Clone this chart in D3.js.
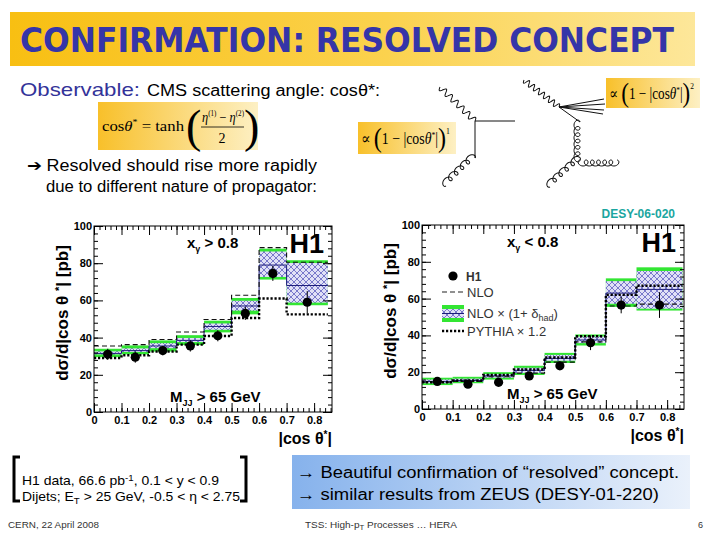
<!DOCTYPE html>
<html>
<head>
<meta charset="utf-8">
<script src="https://cdn.jsdelivr.net/npm/d3@7"></script>
<style>
  body { margin: 0; background: #fff; }
  svg { display: block; font-family: "Liberation Sans", Arial, sans-serif; }
</style>
</head>
<body>
<div class="slide"></div>
<script>

// bins in |cos theta*|
var binEdges = [0, 0.1, 0.2, 0.3, 0.4, 0.5, 0.6, 0.7, 0.85];
var xTicks = [0, 0.1, 0.2, 0.3, 0.4, 0.5, 0.6, 0.7, 0.8];
var yTicks = [0, 20, 40, 60, 80, 100];

// x_gamma > 0.8 (direct)
var dataL   = [31, 29.5, 33, 35.5, 41, 53, 74.5, 59];
var errL    = [3, 3, 2.5, 3, 3, 3.5, 4, 6];
var nloL    = [35.5, 36.2, 39, 43, 49.7, 62.8, 88.4, 80.5];
var hadL    = [31.5, 33, 35.5, 38.5, 46, 57, 79, 68];
var greenLoL = [29.5, 31, 32.5, 36, 42.8, 52.5, 71.2, 57.4];
var greenHiL = [34, 35.8, 38.5, 41.3, 49.1, 61.3, 87.8, 81.6];
var hatchLoL = [31, 32.3, 34.3, 37.6, 44.2, 54.5, 72.6, 58.8];
var hatchHiL = [32.6, 34.2, 37, 39.8, 47.6, 59.8, 86.3, 80.1];
var pythiaL = [29, 30.5, 32.5, 36.2, 40.9, 50.5, 61, 52.5];

// x_gamma < 0.8 (resolved)
var dataR   = [15, 13.5, 14.5, 18, 23.5, 36, 56.5, 56.5];
var errR    = [1.5, 1.5, 1.5, 2, 2.5, 4, 4.5, 7];
var nloR    = [14.5, 15, 17.5, 19.5, 25.5, 36.5, 56, 57];
var hadR    = [15, 15.5, 18, 21, 27.5, 37.5, 63, 65];
var greenLoR = [13, 14, 16, 18.5, 25, 34.5, 55.5, 53.5];
var greenHiR = [17, 17.5, 20, 23.5, 30.5, 40.5, 71, 77];
var hatchLoR = [14, 14.8, 17, 19.6, 26.2, 35.8, 57.2, 54.5];
var hatchHiR = [16, 16.5, 19, 22.4, 29.4, 39.4, 69.5, 75];
var pythiaR = [14.5, 15.5, 18.5, 21.5, 28, 39.5, 62, 67];

var W = 720, H = 540;
var svg = d3.select(".slide").append("svg")
  .attr("width", W).attr("height", H);

var defs = svg.append("defs");

var gTitle = defs.append("linearGradient").attr("id", "gold").attr("x1", 0).attr("x2", 1);
gTitle.append("stop").attr("offset", 0).attr("stop-color", "#f8bf12");
gTitle.append("stop").attr("offset", 0.55).attr("stop-color", "#fbd24e");
gTitle.append("stop").attr("offset", 1).attr("stop-color", "#fde79a");

var gBox = defs.append("linearGradient").attr("id", "goldbox").attr("x1", 0).attr("x2", 1);
gBox.append("stop").attr("offset", 0).attr("stop-color", "#f8c02a");
gBox.append("stop").attr("offset", 1).attr("stop-color", "#fdf0c4");

var gBlue = defs.append("linearGradient").attr("id", "bluebox").attr("x1", 0).attr("x2", 1);
gBlue.append("stop").attr("offset", 0).attr("stop-color", "#86b2ec");
gBlue.append("stop").attr("offset", 1).attr("stop-color", "#eaf1fb");

var hatch = defs.append("pattern").attr("id", "hatch")
  .attr("patternUnits", "userSpaceOnUse").attr("width", 6).attr("height", 6);
hatch.append("rect").attr("width", 6).attr("height", 6).attr("fill", "#e0e0f6");
hatch.append("path").attr("d", "M0,0L6,6M6,0L0,6M-3,3L3,-3M3,9L9,3M-3,3L3,9M3,-3L9,3")
  .attr("stroke", "#4a4ab8").attr("stroke-width", 0.7);

// ---------- title banner ----------
svg.append("rect").attr("x", 10).attr("y", 12).attr("width", 685).attr("height", 54)
  .attr("fill", "url(#gold)");
svg.append("text").attr("x", 20).attr("y", 52)
  .attr("font-family", "'DejaVu Sans', sans-serif").attr("font-weight", "bold")
  .attr("font-size", 34).attr("fill", "#3535a8")
  .attr("textLength", 654).attr("lengthAdjust", "spacingAndGlyphs")
  .text("CONFIRMATION: RESOLVED CONCEPT");

// ---------- top text ----------
svg.append("text").attr("x", 20).attr("y", 96).attr("font-size", 19).attr("fill", "#333399")
  .attr("textLength", 120).attr("lengthAdjust", "spacingAndGlyphs").text("Observable:");
svg.append("text").attr("x", 147).attr("y", 96).attr("font-size", 16).attr("fill", "#000")
  .attr("textLength", 233).attr("lengthAdjust", "spacingAndGlyphs")
  .text("CMS scattering angle: cosθ*:");

// formula box
svg.append("rect").attr("x", 98).attr("y", 102).attr("width", 160).attr("height", 48)
  .attr("fill", "url(#goldbox)");
var serif = "'Liberation Serif', 'DejaVu Serif', serif";
svg.append("text").attr("x", 102).attr("y", 131).attr("font-family", serif).attr("font-size", 15)
  .attr("textLength", 82).attr("lengthAdjust", "spacingAndGlyphs")
  .html("cos<tspan font-style='italic'>θ</tspan><tspan dy='-6' font-size='9'>*</tspan><tspan dy='6'> = tanh</tspan>");
svg.append("text").attr("x", 186).attr("y", 142).attr("font-family", serif).attr("font-size", 46)
  .attr("font-weight", "lighter").text("(");
svg.append("text").attr("x", 244).attr("y", 142).attr("font-family", serif).attr("font-size", 46)
  .attr("font-weight", "lighter").text(")");
svg.append("text").attr("x", 202).attr("y", 122).attr("font-family", serif).attr("font-size", 14)
  .attr("textLength", 42).attr("lengthAdjust", "spacingAndGlyphs")
  .html("<tspan font-style='italic'>η</tspan><tspan dy='-6' font-size='8'>(1)</tspan><tspan dy='6'> − </tspan><tspan font-style='italic'>η</tspan><tspan dy='-6' font-size='8'>(2)</tspan>");
svg.append("line").attr("x1", 201).attr("x2", 244).attr("y1", 127).attr("y2", 127)
  .attr("stroke", "#000").attr("stroke-width", 0.8);
svg.append("text").attr("x", 222).attr("y", 143).attr("text-anchor", "middle")
  .attr("font-family", serif).attr("font-size", 14).text("2");

svg.append("text").attr("x", 27).attr("y", 171).attr("font-size", 16)
  .attr("textLength", 290).attr("lengthAdjust", "spacingAndGlyphs")
  .text("➔ Resolved should rise more rapidly");
svg.append("text").attr("x", 46).attr("y", 192).attr("font-size", 16)
  .attr("textLength", 271).attr("lengthAdjust", "spacingAndGlyphs")
  .text("due to different nature of propagator:");

// proportionality boxes
function propBox(x, y, w, h, pow) {
  svg.append("rect").attr("x", x).attr("y", y).attr("width", w).attr("height", h)
    .attr("fill", "url(#goldbox)");
  var t = svg.append("text").attr("x", x + 3).attr("y", y + h / 2 + 6)
    .attr("font-family", serif).attr("font-size", 16)
    .attr("textLength", w - 9).attr("lengthAdjust", "spacingAndGlyphs");
  t.html("∝ <tspan font-size='28' dy='3'>(</tspan><tspan dy='-3'>1 − |cos</tspan><tspan font-style='italic'>θ</tspan><tspan font-size='9' dy='-6'>*</tspan><tspan dy='6'>|</tspan><tspan font-size='28' dy='3'>)</tspan><tspan font-size='9' dy='-13'>" + pow + "</tspan>");
}
propBox(358, 122, 98, 32, 1);
propBox(606, 78, 94, 30, 2);

// Feynman-style lines: drawn along x in a local frame, then rotated into place
function wavyLocal(L, n, amp) {
  var pts = [];
  for (var i = 0; i <= n * 20; i++) {
    var s = i / (n * 20);
    pts.push([L * s, amp * Math.sin(s * n * 2 * Math.PI)]);
  }
  return d3.line()(pts);
}
function curlyLocal(L, n, r) {
  var pts = [];
  for (var i = 0; i <= n * 20; i++) {
    var t = i / 20 * 2 * Math.PI, s = i / (n * 20);
    pts.push([L * s - r * 1.1 * Math.sin(t), r * (1 - Math.cos(t))]);
  }
  return d3.line()(pts);
}
var feyn = svg.append("g").attr("fill", "none").attr("stroke", "#111").attr("stroke-width", 1);
function prop(kind, x1, y1, x2, y2, n, a) {
  var dx = x2 - x1, dy = y2 - y1, L = Math.sqrt(dx * dx + dy * dy);
  var ang = Math.atan2(dy, dx) * 180 / Math.PI;
  feyn.append("path")
    .attr("d", kind === "w" ? wavyLocal(L, n, a) : curlyLocal(L, n, a))
    .attr("transform", "translate(" + x1 + "," + y1 + ") rotate(" + ang + ")");
}
prop("w", 440, 87, 475, 121, 6, 3);
feyn.append("path").attr("d", "M475,121L515,121M475,121L475,158");
prop("c", 475, 158, 446, 186, 5, 3);
prop("w", 524, 80, 559, 107, 7, 2.8);
feyn.append("path").attr("d", "M559,107L604,99M559,107L605,104M559,107L604,110M559,107L603,114M559,107L580,122");
prop("c", 580, 122, 580, 160, 6, 3);
prop("c", 580, 160, 617, 160, 6, 3);
prop("c", 580, 160, 550, 187, 5, 3);

// ---------- histogram panels ----------
function panel(cfg) {
  var x = d3.scaleLinear().domain([0, cfg.xMax]).range([cfg.x0, cfg.x1]);
  var y = d3.scaleLinear().domain([0, 100]).range([cfg.y0, cfg.y1]);
  var g = svg.append("g");
  var nb = binEdges.length - 1;
  var bins = d3.range(nb);

  // green total band
  g.selectAll(".green").data(bins).enter().append("rect")
    .attr("x", function(i) { return x(binEdges[i]); })
    .attr("width", function(i) { return x(binEdges[i + 1]) - x(binEdges[i]); })
    .attr("y", function(i) { return y(cfg.gHi[i]); })
    .attr("height", function(i) { return y(cfg.gLo[i]) - y(cfg.gHi[i]); })
    .attr("fill", "#33e633");
  // hatched scale band
  g.selectAll(".hatchb").data(bins).enter().append("rect")
    .attr("x", function(i) { return x(binEdges[i]); })
    .attr("width", function(i) { return x(binEdges[i + 1]) - x(binEdges[i]); })
    .attr("y", function(i) { return y(cfg.hHi[i]); })
    .attr("height", function(i) { return y(cfg.hLo[i]) - y(cfg.hHi[i]); })
    .attr("fill", "url(#hatch)");

  function stepPts(vals) {
    var p = [];
    vals.forEach(function(v, i) {
      p.push([x(binEdges[i]), y(v)]);
      p.push([x(binEdges[i + 1]), y(v)]);
    });
    return p;
  }
  var line = d3.line();
  g.append("path").attr("d", line(stepPts(cfg.had)))
    .attr("fill", "none").attr("stroke", "#1c1c7a").attr("stroke-width", 1);
  g.append("path").attr("d", line(stepPts(cfg.nlo)))
    .attr("fill", "none").attr("stroke", "#111").attr("stroke-width", 1.1)
    .attr("stroke-dasharray", "5,3");
  g.append("path").attr("d", line(stepPts(cfg.pythia)))
    .attr("fill", "none").attr("stroke", "#000").attr("stroke-width", 2.4)
    .attr("stroke-dasharray", "2.2,1.8");

  // data points
  var mid = function(i) { return x((binEdges[i] + binEdges[i + 1]) / 2); };
  g.selectAll(".err").data(bins).enter().append("line")
    .attr("x1", mid).attr("x2", mid)
    .attr("y1", function(i) { return y(cfg.data[i] + cfg.err[i]); })
    .attr("y2", function(i) { return y(cfg.data[i] - cfg.err[i]); })
    .attr("stroke", "#000").attr("stroke-width", 1);
  g.selectAll(".pt").data(bins).enter().append("circle")
    .attr("cx", mid).attr("cy", function(i) { return y(cfg.data[i]); })
    .attr("r", 4.6).attr("fill", "#000");

  // frame + axes (ROOT style, ticks inside on all sides)
  g.append("rect").attr("x", cfg.x0).attr("y", cfg.y1)
    .attr("width", cfg.x1 - cfg.x0).attr("height", cfg.y0 - cfg.y1)
    .attr("fill", "none").attr("stroke", "#000").attr("stroke-width", 1);

  var xMinor = d3.range(0, cfg.xMax, 0.02);
  var yMinor = d3.range(0, 100.1, 4);
  function ax(a, tr) {
    var s = g.append("g").attr("transform", tr).call(a);
    s.select(".domain").remove();
    return s;
  }
  var bx = ax(d3.axisBottom(x).tickValues(xTicks).tickSize(-9).tickPadding(4)
    .tickFormat(function(d) { return d === 0 ? "0" : d3.format(".1f")(d); }), "translate(0," + cfg.y0 + ")");
  ax(d3.axisBottom(x).tickValues(xMinor).tickSize(-4).tickFormat(""), "translate(0," + cfg.y0 + ")");
  ax(d3.axisTop(x).tickValues(xTicks).tickSize(-9).tickFormat(""), "translate(0," + cfg.y1 + ")");
  ax(d3.axisTop(x).tickValues(xMinor).tickSize(-4).tickFormat(""), "translate(0," + cfg.y1 + ")");
  var ly = ax(d3.axisLeft(y).tickValues(yTicks).tickSize(-9).tickPadding(2), "translate(" + cfg.x0 + ",0)");
  ax(d3.axisLeft(y).tickValues(yMinor).tickSize(-4).tickFormat(""), "translate(" + cfg.x0 + ",0)");
  ax(d3.axisRight(y).tickValues(yTicks).tickSize(-9).tickFormat(""), "translate(" + cfg.x1 + ",0)");
  ax(d3.axisRight(y).tickValues(yMinor).tickSize(-4).tickFormat(""), "translate(" + cfg.x1 + ",0)");
  g.selectAll(".tick line").attr("stroke", "#000");
  [bx, ly].forEach(function(s) {
    s.selectAll("text").attr("font-size", 11).attr("font-weight", "bold")
      .attr("font-family", "'Liberation Sans', Arial, sans-serif").attr("fill", "#000");
  });

  // labels
  g.append("text").attr("transform", "translate(" + (cfg.x0 - 26) + "," + ((cfg.y0 + cfg.y1) / 2 - 6) + ") rotate(-90)")
    .attr("text-anchor", "middle").attr("font-size", 17).attr("font-weight", "bold")
    .html("dσ/d|cos θ <tspan dy='-5' font-size='11'>*</tspan><tspan dy='5'>| [pb]</tspan>");
  g.append("text").attr("x", cfg.x1).attr("y", cfg.y0 + 32).attr("text-anchor", "end")
    .attr("font-size", 16).attr("font-weight", "bold")
    .html("|cos θ<tspan dy='-6' font-size='10'>*</tspan><tspan dy='6'>|</tspan>");
  g.append("text").attr("x", cfg.x1 - 8).attr("y", cfg.y1 + 27).attr("text-anchor", "end")
    .attr("font-size", 27).attr("font-weight", "bold").text("H1");
  g.append("text").attr("x", cfg.xgX).attr("y", cfg.y1 + 22)
    .attr("font-size", 15).attr("font-weight", "bold")
    .html("x<tspan dy='4' font-size='9'>γ</tspan><tspan dy='-4'> " + cfg.xgTxt + "</tspan>");
  g.append("text").attr("x", cfg.mjX).attr("y", cfg.y0 - 10)
    .attr("font-size", 15).attr("font-weight", "bold")
    .html("M<tspan dy='4' font-size='9'>JJ</tspan><tspan dy='-4'> &gt; 65 GeV</tspan>");
  return { x: x, y: y, g: g };
}

panel({ x0: 94, x1: 332, y0: 412, y1: 226, xMax: 0.865,
  data: dataL, err: errL, nlo: nloL, had: hadL, gLo: greenLoL, gHi: greenHiL,
  hLo: hatchLoL, hHi: hatchHiL, pythia: pythiaL,
  xgTxt: "&gt; 0.8", xgX: 187, mjX: 170 });

panel({ x0: 422, x1: 684, y0: 409, y1: 225, xMax: 0.855,
  data: dataR, err: errR, nlo: nloR, had: hadR, gLo: greenLoR, gHi: greenHiR,
  hLo: hatchLoR, hHi: hatchHiR, pythia: pythiaR,
  xgTxt: "&lt; 0.8", xgX: 507, mjX: 507 });

svg.append("text").attr("x", 675).attr("y", 218).attr("text-anchor", "end")
  .attr("font-size", 12).attr("font-weight", "bold").attr("fill", "#1aa6a0")
  .text("DESY-06-020");

// legend (right panel)
var lg = svg.append("g").attr("font-size", 13).attr("fill", "#333");
lg.append("circle").attr("cx", 453).attr("cy", 276).attr("r", 4.6).attr("fill", "#000");
lg.append("text").attr("x", 466).attr("y", 281).attr("font-weight", "bold").attr("font-size", 12).text("H1");
lg.append("line").attr("x1", 442).attr("x2", 464).attr("y1", 292).attr("y2", 292)
  .attr("stroke", "#222").attr("stroke-width", 1.1).attr("stroke-dasharray", "5,3");
lg.append("text").attr("x", 467).attr("y", 297).text("NLO");
lg.append("rect").attr("x", 442).attr("y", 305).attr("width", 22).attr("height", 17).attr("fill", "#33e633");
lg.append("rect").attr("x", 442).attr("y", 309).attr("width", 22).attr("height", 9).attr("fill", "url(#hatch)");
lg.append("line").attr("x1", 442).attr("x2", 464).attr("y1", 313.5).attr("y2", 313.5)
  .attr("stroke", "#1c1c7a").attr("stroke-width", 1);
lg.append("text").attr("x", 467).attr("y", 318)
  .html("NLO × (1+ δ<tspan dy='3' font-size='9'>had</tspan><tspan dy='-3'>)</tspan>");
lg.append("line").attr("x1", 442).attr("x2", 464).attr("y1", 331).attr("y2", 331)
  .attr("stroke", "#000").attr("stroke-width", 2.4).attr("stroke-dasharray", "2.2,1.8");
lg.append("text").attr("x", 467).attr("y", 336).text("PYTHIA × 1.2");

// ---------- bottom ----------
var br = svg.append("g").attr("fill", "none").attr("stroke", "#000").attr("stroke-width", 3);
br.append("path").attr("d", "M20,457L14,457L14,501L20,501");
br.append("path").attr("d", "M240,457L246,457L246,501L240,501");
svg.append("text").attr("x", 22).attr("y", 485).attr("font-size", 13)
  .attr("textLength", 197).attr("lengthAdjust", "spacingAndGlyphs")
  .html("H1 data, 66.6 pb<tspan dy='-4' font-size='9'>-1</tspan><tspan dy='4'>, 0.1 &lt; y &lt; 0.9</tspan>");
svg.append("text").attr("x", 22).attr("y", 501).attr("font-size", 13)
  .attr("textLength", 218).attr("lengthAdjust", "spacingAndGlyphs")
  .html("Dijets; E<tspan dy='3' font-size='9'>T</tspan><tspan dy='-3'> &gt; 25 GeV, -0.5 &lt; η &lt; 2.75</tspan>");

svg.append("rect").attr("x", 292).attr("y", 455).attr("width", 398).attr("height", 54)
  .attr("fill", "url(#bluebox)");
svg.append("text").attr("x", 297).attr("y", 478).attr("font-size", 16)
  .attr("textLength", 382).attr("lengthAdjust", "spacingAndGlyphs")
  .text("→ Beautiful confirmation of “resolved” concept.");
svg.append("text").attr("x", 297).attr("y", 500).attr("font-size", 16)
  .attr("textLength", 362).attr("lengthAdjust", "spacingAndGlyphs")
  .text("→ similar results from ZEUS (DESY-01-220)");

var ft = svg.append("g").attr("font-size", 9).attr("fill", "#333");
ft.append("text").attr("x", 8).attr("y", 528).attr("textLength", 91).attr("lengthAdjust", "spacingAndGlyphs")
  .text("CERN, 22 April 2008");
ft.append("text").attr("x", 305).attr("y", 528).attr("textLength", 152).attr("lengthAdjust", "spacingAndGlyphs")
  .html("TSS: High-p<tspan dy='2' font-size='7'>T</tspan><tspan dy='-2'> Processes … HERA</tspan>");
ft.append("text").attr("x", 698).attr("y", 528).text("6");

</script>
</body>
</html>
